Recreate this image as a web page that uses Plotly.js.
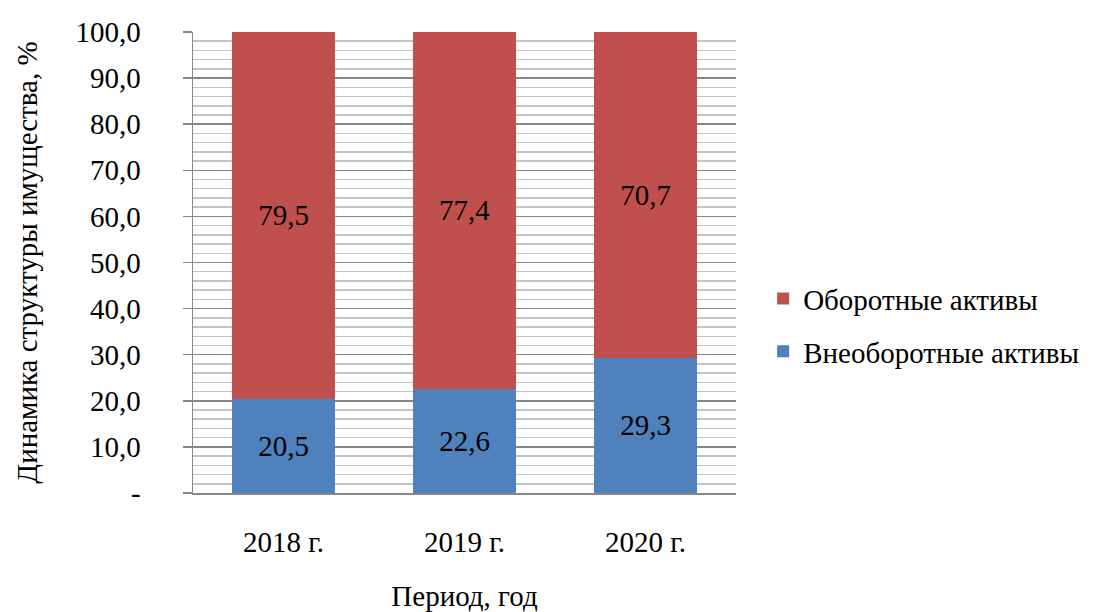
<!DOCTYPE html>
<html><head><meta charset="utf-8">
<script src="https://cdn.plot.ly/plotly-3.0.1.min.js"></script>
<style>html,body{margin:0;padding:0;background:#fff}#chart{width:1110px;height:612px}</style>
</head><body><div id="chart"></div>
<script>
const categories = ["2018 г.", "2019 г.", "2020 г."];
const nonCurrent = [20.5, 22.6, 29.3];
const current = [79.5, 77.4, 70.7];
const seriesNames = ["Внеоборотные активы", "Оборотные активы"];
const yTickVals = [0, 10, 20, 30, 40, 50, 60, 70, 80, 90, 100];
const yTickText = ["-", "10,0", "20,0", "30,0", "40,0", "50,0", "60,0", "70,0", "80,0", "90,0", "100,0"];

const FONT = "Liberation Serif";
const FS = 29;
const common = {
  type: "bar", x: categories, width: 0.57,
  texttemplate: "%{y:.1f}", textposition: "inside", insidetextanchor: "middle",
  constraintext: "none",
  insidetextfont: {family: FONT, size: 29, color: "#000"},
  hoverinfo: "skip"
};
const data = [
  Object.assign({}, common, {y: nonCurrent, name: seriesNames[0], legendgroup: "a", legendrank: 2, marker: {color: "#4F81BD"}}),
  Object.assign({}, common, {y: current, name: seriesNames[1], legendgroup: "b", legendrank: 1, marker: {color: "#C0504D"}})
];
const layout = {
  width: 1110, height: 612,
  margin: {l: 193, r: 374, t: 32, b: 119},
  barmode: "stack",
  separators: ", ",
  paper_bgcolor: "#fff", plot_bgcolor: "#fff",
  font: {family: FONT, size: FS, color: "#000"},
  xaxis: {
    showline: true, linecolor: "#888", linewidth: 1.5,
    ticks: "", showgrid: false,
    ticklabelstandoff: 23,
    tickfont: {family: FONT, size: FS},
    title: {text: "Период, год", font: {family: FONT, size: FS}, standoff: 28},
    automargin: false
  },
  yaxis: {
    range: [0, 100], tickvals: yTickVals, ticktext: yTickText,
    showline: true, linecolor: "#888", linewidth: 1.5,
    ticks: "outside", ticklen: 9, tickcolor: "#888", tickwidth: 1.5,
    showgrid: true, gridcolor: "#878787", gridwidth: 1.5,
    minor: {dtick: 2, showgrid: true, gridcolor: "#C4C4C4", gridwidth: 1.5, ticks: ""},
    zeroline: false,
    ticklabelstandoff: 36,
    tickfont: {family: FONT, size: FS},
    title: {text: "Динамика структуры имущества, %", font: {family: FONT, size: FS}, standoff: 29},
    automargin: false
  },
  legend: {
    x: 1.05, y: 0.364, xanchor: "left", yanchor: "middle",
    traceorder: "grouped", tracegroupgap: 12,
    font: {family: FONT, size: FS},
    itemwidth: 30
  },
  showlegend: true
};
Plotly.newPlot("chart", data, layout, {displayModeBar: false, staticPlot: true});
</script></body></html>
